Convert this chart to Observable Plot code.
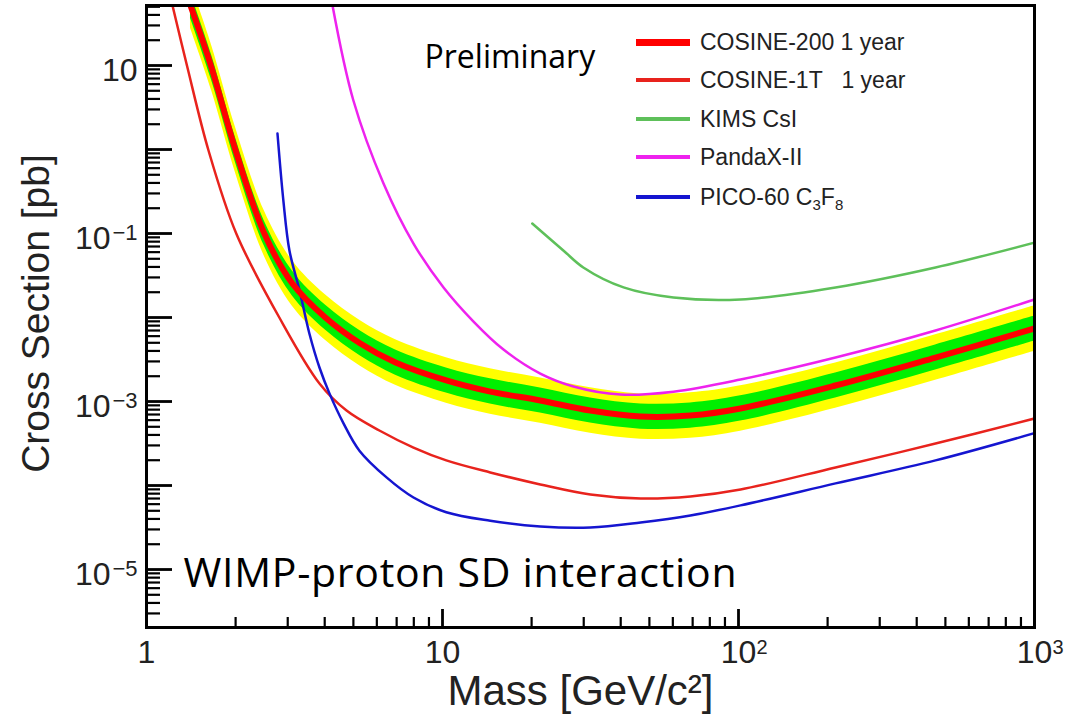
<!DOCTYPE html>
<html><head><meta charset="utf-8">
<script src="https://cdn.jsdelivr.net/npm/d3@7"></script>
<script src="https://cdn.jsdelivr.net/npm/@observablehq/plot@0.6"></script>
<style>
body{margin:0;background:#fff;}
#wrap{position:relative;width:1076px;height:728px;font-family:"Liberation Sans",Arial,sans-serif;}
.sw{position:absolute;left:636px;width:54px;}
.lab{position:absolute;left:700px;font-size:23px;line-height:26px;color:#222;white-space:pre;}
.lab sub{font-size:15px;vertical-align:-5px;line-height:0;}
</style></head><body><div id="wrap"></div>
<script>
// ---- data (mass in GeV/c^2, cross section in pb) ----
const c200Mass = [1.408, 1.658, 2.0, 2.50, 3.11, 4.02, 5.28, 6.94, 10.3, 14.5, 21.4, 31.6, 46.7, 68.8, 101.6, 212.7, 463, 1000];
const c200     = [51.8, 9.46, 0.973, 0.1, 0.0254, 0.01, 4.90e-3, 2.91e-3, 1.78e-3, 1.31e-3, 1.03e-3, 7.81e-4, 6.63e-4, 6.81e-4, 8.26e-4, 1.55e-3, 3.34e-3, 7.40e-3];
const c200GreenLo  = [36.6, 6.70, 0.689, 0.0708, 0.0180, 7.08e-3, 3.47e-3, 2.06e-3, 1.26e-3, 9.31e-4, 7.28e-4, 5.53e-4, 4.69e-4, 4.82e-4, 5.85e-4, 1.10e-3, 2.37e-3, 5.24e-3];
const c200GreenHi  = [73.1, 13.4, 1.37, 0.141, 0.0359, 0.0141, 6.92e-3, 4.11e-3, 2.51e-3, 1.86e-3, 1.45e-3, 1.10e-3, 9.35e-4, 9.62e-4, 1.17e-3, 2.19e-3, 4.72e-3, 1.04e-2];
const c200YellowLo = [27.8, 5.08, 0.522, 0.0537, 0.01365, 5.37e-3, 2.63e-3, 1.56e-3, 9.55e-4, 7.06e-4, 5.52e-4, 4.20e-4, 3.56e-4, 3.66e-4, 4.44e-4, 8.32e-4, 1.79e-3, 3.97e-3];
const c200YellowHi = [96.4, 17.6, 1.81, 0.186, 0.0473, 0.0186, 9.12e-3, 5.42e-3, 3.31e-3, 2.45e-3, 1.91e-3, 1.46e-3, 1.23e-3, 1.27e-3, 1.54e-3, 2.88e-3, 6.22e-3, 1.38e-2];

const c1tMass = [1.224, 1.375, 1.62, 2.01, 2.81, 3.84, 4.74, 6.12, 7.98, 10.3, 14.5, 21.4, 31.6, 46.7, 68.8, 101.6, 212.7, 463, 1000];
const c1t     = [51.8, 9.46, 0.973, 0.1, 0.01, 1.64e-3, 7.81e-4, 4.52e-4, 2.83e-4, 1.99e-4, 1.43e-4, 1.03e-4, 7.81e-5, 7.0e-5, 7.4e-5, 8.96e-5, 1.64e-4, 3.16e-4, 6.28e-4];

const kimsMass = [20.1, 25.6, 29.9, 40.9, 60.3, 101.6, 212.7, 463, 1000];
const kims     = [0.1315, 0.0628, 0.0394, 0.0228, 0.0173, 0.0164, 0.0228, 0.0394, 0.078];

const pandaMass = [4.25, 5.0, 6.32, 7.98, 10.08, 12.73, 16.07, 21.4, 27.7, 39.9, 60.3, 101.6, 212.7, 463, 1000];
const panda     = [51.8, 3.83, 0.394, 0.076, 0.0228, 8.96e-3, 4.16e-3, 2.15e-3, 1.51e-3, 1.21e-3, 1.31e-3, 1.83e-3, 3.34e-3, 7.0e-3, 0.0164];

const picoMass = [2.77, 2.90, 3.04, 3.29, 3.55, 3.84, 4.15, 4.63, 5.24, 6.47, 7.98, 10.3, 14.5, 21.4, 31.6, 46.7, 68.8, 101.6, 212.7, 463, 1000];
const pico     = [1.55, 0.247, 0.0628, 0.0209, 6.46e-3, 2.54e-3, 1.25e-3, 5.5e-4, 2.6e-4, 1.25e-4, 7.2e-5, 4.8e-5, 3.8e-5, 3.25e-5, 3.16e-5, 3.63e-5, 4.4e-5, 5.8e-5, 1.06e-4, 1.99e-4, 4.2e-4];

// ---- axis ticks & labels ----
const yTickVals = [10, 0.1, 1e-3, 1e-5];
const yTickBase = ["10", "10", "10", "10"];
const yTickExp  = ["", "−1", "−3", "−5"];
const xTickVals = [1, 10, 100, 1000];
const xTickBase = ["1", "10", "10", "10"];
const xTickExp  = ["", "", "2", "3"];
const yDecades = [1e-5, 1e-4, 1e-3, 1e-2, 1e-1, 1, 10];
const xDecades = [10, 100];
const yDomain = [2.04e-6, 51.8];
const yMinor = [];
for (let e = -6; e <= 1; e++) for (let k = 2; k <= 9; k++) { const v = k * Math.pow(10, e); if (v > yDomain[0] && v < yDomain[1]) yMinor.push(v); }
const xMinor = [];
for (let e = 0; e <= 2; e++) for (let k = 2; k <= 9; k++) xMinor.push(k * Math.pow(10, e));

const legendLabels = ["COSINE-200 1 year", "COSINE-1T   1 year", "KIMS CsI", "PandaX-II", "PICO-60 C<sub>3</sub>F<sub>8</sub>"];

// ---- build ----
const W = 1076, H = 728, mL = 146, mR = 42, mT = 5, mB = 101;
const fw = W - mL - mR, fh = H - mT - mB;
const band = c200Mass.map((m, i) => ({m, c: c200[i], gl: c200GreenLo[i], gh: c200GreenHi[i], yl: c200YellowLo[i], yh: c200YellowHi[i]}));
const rows = (ms, vs) => ms.map((m, i) => ({m, v: vs[i]}));
const yLab = yTickVals.map((v, i) => ({v, b: yTickBase[i], e: yTickExp[i]}));
const xLab = xTickVals.map((v, i) => ({v, b: xTickBase[i], e: xTickExp[i]}));
const cv = "catmull-rom";
const sans = "Liberation Sans, Arial, sans-serif";
const hum = "'Open Sans', Lato, sans-serif";

const chart = Plot.plot({
  width: W, height: H, marginLeft: mL, marginRight: mR, marginTop: mT, marginBottom: mB,
  x: {type: "log", domain: [1, 1000], axis: null},
  y: {type: "log", domain: yDomain, axis: null},
  style: {fontFamily: sans, background: "white", overflow: "visible"},
  marks: [
    Plot.areaY(band, {x: "m", y1: "yl", y2: "yh", fill: "#ffff00", curve: cv, clip: true}),
    Plot.areaY(band, {x: "m", y1: "gl", y2: "gh", fill: "#00f000", curve: cv, clip: true}),
    Plot.line(rows(kimsMass, kims), {x: "m", y: "v", stroke: "#5ec05a", strokeWidth: 2.5, curve: cv, clip: true}),
    Plot.line(rows(pandaMass, panda), {x: "m", y: "v", stroke: "#ee22ee", strokeWidth: 2.5, curve: cv, clip: true}),
    Plot.line(rows(c1tMass, c1t), {x: "m", y: "v", stroke: "#e8231d", strokeWidth: 2.5, curve: cv, clip: true}),
    Plot.line(rows(picoMass, pico), {x: "m", y: "v", stroke: "#1515d0", strokeWidth: 2.5, curve: cv, clip: true}),
    Plot.line(band, {x: "m", y: "c", stroke: "#ff0000", strokeWidth: 6, curve: cv, clip: true}),
    // inward ticks
    Plot.ruleY(yMinor, {y: d => d, insetRight: fw - 14, stroke: "black", strokeWidth: 2.2}),
    Plot.ruleY(yDecades, {y: d => d, insetRight: fw - 26, stroke: "black", strokeWidth: 2.8}),
    Plot.ruleX(xMinor, {x: d => d, insetTop: fh - 10, stroke: "black", strokeWidth: 2.2}),
    Plot.ruleX(xDecades, {x: d => d, insetTop: fh - 18, stroke: "black", strokeWidth: 2.8}),
    Plot.frame({stroke: "black", strokeWidth: 3}),
    // y tick labels
    Plot.text(yLab.filter(d => d.e === ""), {y: "v", text: "b", frameAnchor: "left", textAnchor: "end", dx: -9, dy: 5, fontSize: 32, fill: "#222"}),
    Plot.text(yLab.filter(d => d.e !== ""), {y: "v", text: "b", frameAnchor: "left", textAnchor: "end", dx: -36, dy: 5, fontSize: 32, fill: "#222"}),
    Plot.text(yLab.filter(d => d.e !== ""), {y: "v", text: "e", frameAnchor: "left", textAnchor: "end", dx: -9, dy: -1, fontSize: 22, fill: "#222"}),
    // x tick labels
    Plot.text(xLab, {x: "v", text: "b", frameAnchor: "bottom", textAnchor: "middle", dy: 35, fontSize: 32, fill: "#222"}),
    Plot.text(xLab.filter(d => d.e !== ""), {x: "v", text: "e", frameAnchor: "bottom", textAnchor: "start", dx: 18, dy: 26, fontSize: 20, fill: "#222"}),
    // axis titles
    Plot.text(["Mass [GeV/c²]"], {text: d => d, frameAnchor: "bottom", textAnchor: "middle", dx: -10, dy: 77, fontSize: 42, fill: "#222"}),
    Plot.text(["Cross Section [pb]"], {text: d => d, frameAnchor: "left", textAnchor: "middle", dx: -110, dy: -3, rotate: -90, fontSize: 39, fill: "#222"}),
    // annotations
    Plot.text(["Preliminary"], {text: d => d, frameAnchor: "top-left", textAnchor: "start", dx: 278, dy: 40, fontSize: 32, fontFamily: hum, fill: "black"}),
    Plot.text(["WIMP-proton SD interaction"], {text: d => d, frameAnchor: "bottom-left", textAnchor: "start", dx: 37, dy: -41, fontSize: 41, fontFamily: hum, fill: "black"})
  ]
});
const wrap = document.getElementById("wrap");
wrap.appendChild(chart);
d3.select(chart).selectAll("text").filter(function () { return this.textContent === "WIMP-proton SD interaction"; }).style("letter-spacing", "0.7px");

// legend overlay
const legColors = ["#ff0000", "#e8231d", "#5ec05a", "#ee22ee", "#1515d0"];
const legW = [7, 3.5, 3.5, 3.5, 3.5];
const legY = [42, 80, 119, 157, 197];
legendLabels.forEach((t, i) => {
  const s = document.createElement("div");
  s.className = "sw";
  s.style.top = (legY[i] - legW[i] / 2) + "px";
  s.style.height = legW[i] + "px";
  s.style.background = legColors[i];
  wrap.appendChild(s);
  const l = document.createElement("div");
  l.className = "lab";
  l.style.top = (legY[i] - 13) + "px";
  l.innerHTML = t;
  wrap.appendChild(l);
});
</script></body></html>
